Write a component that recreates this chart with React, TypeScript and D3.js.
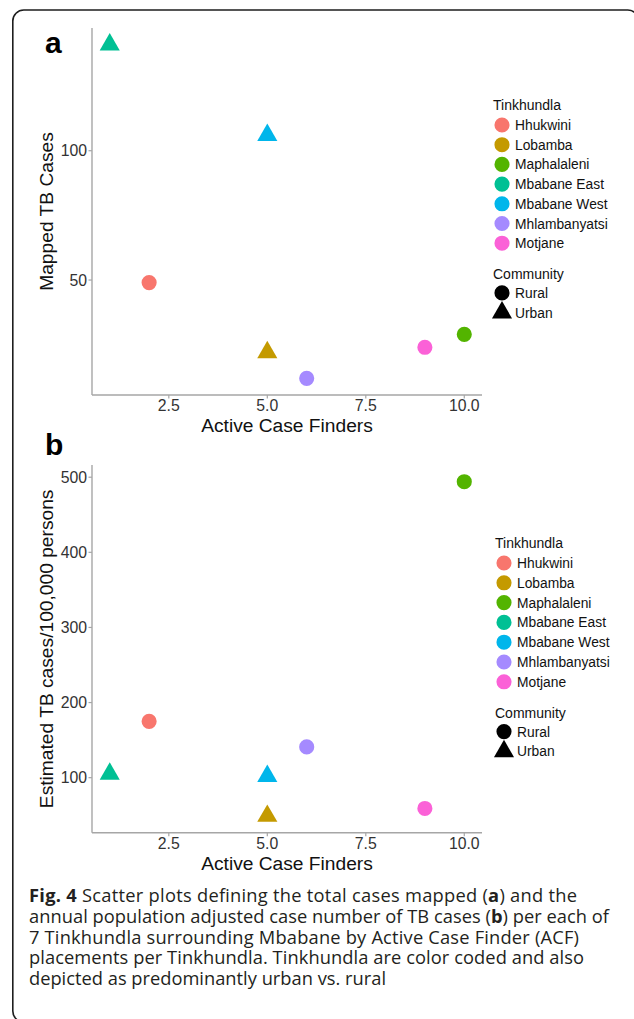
import React from 'react';
import * as d3 from 'd3';

// Tinkhundla
const tinkhundla = ['Hhukwini', 'Lobamba', 'Maphalaleni', 'Mbabane East', 'Mbabane West', 'Mhlambanyatsi', 'Motjane'];
const community = ['Rural', 'Urban', 'Rural', 'Urban', 'Urban', 'Rural', 'Rural'];
const activeCaseFinders = [2, 5, 10, 1, 5, 6, 9];
const mappedCases = [49, 22, 29, 141, 106, 12, 24];
const casesPer100k = [175, 49, 494, 105, 102, 141, 59];

const communityLevels = ['Rural', 'Urban'];
const xTicks = [2.5, 5, 7.5, 10];
const yTicksA = [50, 100];
const yTicksB = [100, 200, 300, 400, 500];

const captionLines = [
  [['Fig. 4', true], [' Scatter plots defining the total cases mapped (', false], ['a', true], [') and the', false]],
  [['annual population adjusted case number of TB cases (', false], ['b', true], [') per each of', false]],
  [['7 Tinkhundla surrounding Mbabane by Active Case Finder (ACF)', false]],
  [['placements per Tinkhundla. Tinkhundla are color coded and also', false]],
  [['depicted as predominantly urban vs. rural', false]],
] as [string, boolean][][];
// rendered width of each caption line in the figure
const captionWidths = [548, 580, 550, 555, 357];

const color = d3.scaleOrdinal<string, string>()
  .domain(tinkhundla)
  .range(['#F8766D', '#C49A00', '#53B400', '#00C094', '#00B6EB', '#A58AFF', '#FB61D7']);

const shape = d3.scaleOrdinal<string, d3.SymbolType>()
  .domain(communityLevels)
  .range([d3.symbolCircle, d3.symbolTriangle]);

const symbolPath = (kind: string) =>
  d3.symbol().type(shape(kind)).size(kind === 'Rural' ? 180 : 175)() as string;

// ggplot-like 5% padding
const padded = (vals: number[]): [number, number] => {
  const [lo, hi] = d3.extent(vals) as [number, number];
  const e = (hi - lo) * 0.05;
  return [lo - e, hi + e];
};

const FONT = "'Liberation Sans', Arial, Helvetica, sans-serif";
const xRange: [number, number] = [92, 482];

type PanelProps = {
  values: number[];
  yTicks: number[];
  yLabel: string;
  letter: string;
  letterY: number;
  top: number;
  bottom: number;
  legendX: number;
  legendTitleY: number;
  legendStep: number;
};

function Panel({ values, yTicks, yLabel, letter, letterY, top, bottom, legendX, legendTitleY, legendStep }: PanelProps) {
  const x = d3.scaleLinear().domain(padded(activeCaseFinders)).range(xRange);
  const y = d3.scaleLinear().domain(padded(values)).range([bottom, top]);
  const axisColor = '#a6a6a6';
  const keyX = legendX + 9;
  const firstKeyY = legendTitleY + 15;
  const commTitleY = firstKeyY + legendStep * tinkhundla.length + 16;

  return (
    <g>
      <text x={45} y={letterY} fontFamily={FONT} fontWeight="bold" fontSize={30} fill="#000">{letter}</text>

      {/* axes */}
      <line x1={xRange[0]} x2={xRange[1]} y1={bottom} y2={bottom} stroke={axisColor} strokeWidth={1.4} />
      <line x1={xRange[0]} x2={xRange[0]} y1={top} y2={bottom} stroke={axisColor} strokeWidth={1.4} />
      {xTicks.map(t => (
        <g key={t}>
          <line x1={x(t)} x2={x(t)} y1={bottom} y2={bottom + 3.5} stroke={axisColor} strokeWidth={1.2} />
          <text x={x(t)} y={bottom + 16.3} textAnchor="middle" fontFamily={FONT} fontSize={15.8} fill="#333">{t.toFixed(1)}</text>
        </g>
      ))}
      {yTicks.map(t => (
        <g key={t}>
          <line x1={xRange[0] - 3.5} x2={xRange[0]} y1={y(t)} y2={y(t)} stroke={axisColor} strokeWidth={1.2} />
          <text x={xRange[0] - 5} y={y(t) + 5.5} textAnchor="end" fontFamily={FONT} fontSize={15.8} fill="#333">{t}</text>
        </g>
      ))}
      <text x={(xRange[0] + xRange[1]) / 2} y={bottom + 37} textAnchor="middle" fontFamily={FONT} fontSize={19.2} fill="#111">
        Active Case Finders
      </text>
      <text transform={`translate(53,${(top + bottom) / 2}) rotate(-90)`} textAnchor="middle" fontFamily={FONT} fontSize={19.2} fill="#111">
        {yLabel}
      </text>

      {/* points */}
      {tinkhundla.map((name, i) => (
        <path key={name} d={symbolPath(community[i])}
          transform={`translate(${x(activeCaseFinders[i])},${y(values[i])})`} fill={color(name)} />
      ))}

      {/* legend */}
      <text x={legendX} y={legendTitleY} fontFamily={FONT} fontSize={14} fill="#111">Tinkhundla</text>
      {tinkhundla.map((name, i) => (
        <g key={name} transform={`translate(${keyX},${firstKeyY + i * legendStep})`}>
          <path d={symbolPath('Rural')} fill={color(name)} />
          <text x={13} y={5} fontFamily={FONT} fontSize={13.8} fill="#111">{name}</text>
        </g>
      ))}
      <text x={legendX} y={commTitleY} fontFamily={FONT} fontSize={14} fill="#111">Community</text>
      {communityLevels.map((c, i) => (
        <g key={c} transform={`translate(${keyX},${commTitleY + 14 + i * legendStep})`}>
          <path d={symbolPath(c)} fill="#000" />
          <text x={13} y={5} fontFamily={FONT} fontSize={13.8} fill="#111">{c}</text>
        </g>
      ))}
    </g>
  );
}

export default function App() {
  return (
    <div style={{ position: 'absolute', left: 0, top: 0, background: '#fff' }}>
      <svg width={634} height={1019} viewBox="0 0 634 1019" style={{ display: 'block' }}>
        <rect x={0} y={0} width={634} height={1019} fill="#fff" />
        <rect x={12.8} y={10} width={626} height={1012} rx={11} fill="none" stroke="#1e1e1e" strokeWidth={1.6} />

        <Panel values={mappedCases} yTicks={yTicksA} yLabel="Mapped TB Cases" letter="a" letterY={53}
          top={28} bottom={395} legendX={493} legendTitleY={110} legendStep={19.7} />
        <Panel values={casesPer100k} yTicks={yTicksB} yLabel="Estimated TB cases/100,000 persons" letter="b" letterY={455}
          top={465} bottom={832.7} legendX={495} legendTitleY={548} legendStep={19.8} />

        {captionLines.map((line, i) => (
          <text key={i} x={29} y={902 + i * 20.8} textLength={captionWidths[i]} lengthAdjust="spacing"
            fontFamily="'Open Sans', Lato, sans-serif" fontSize={18.3} fill="#231f20">
            {line.map(([s, bold], j) => (
              <tspan key={j} fontWeight={bold ? 'bold' : 'normal'}>{s}</tspan>
            ))}
          </text>
        ))}
      </svg>
    </div>
  );
}
